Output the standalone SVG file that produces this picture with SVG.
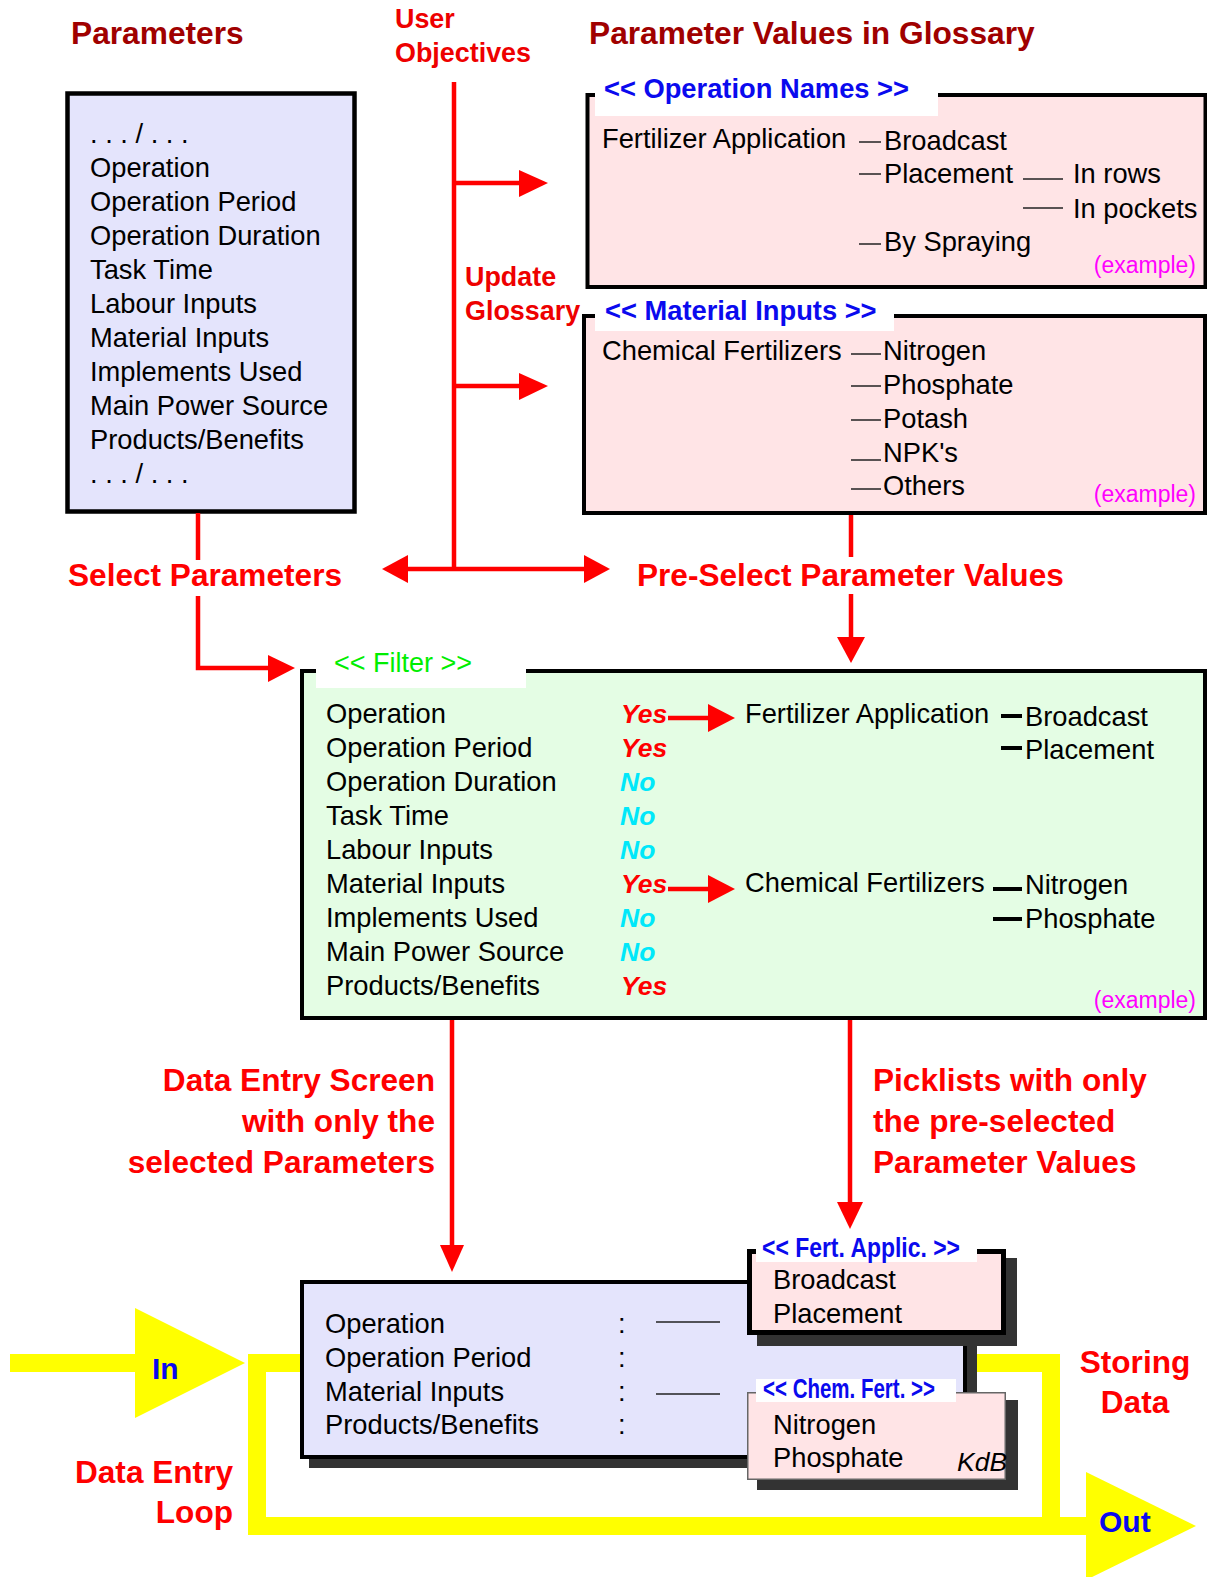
<svg xmlns="http://www.w3.org/2000/svg" width="1207" height="1577" viewBox="0 0 1207 1577">
<defs>
<style>
text{font-family:"Liberation Sans",Arial,Helvetica,sans-serif;}
.reg{font-size:27.3px;fill:#000;}
.hd{font-size:31.7px;font-weight:bold;fill:#A00000;}
.lbl{font-size:31.6px;font-weight:bold;fill:#FF0000;}
.lbl2{font-size:26.9px;font-weight:bold;fill:#EE0000;}
.ttl{font-size:27.3px;font-weight:bold;fill:#0A0AEE;}
.ex{font-size:23px;fill:#FF00FF;text-anchor:end;}
.yes{font-size:26.5px;font-weight:bold;font-style:italic;fill:#FF0000;}
.no{font-size:26.5px;font-weight:bold;font-style:italic;fill:#00E8FA;}
.io{font-size:30px;font-weight:bold;fill:#0A0AEE;}
.thin{stroke:#222;stroke-width:1.5;fill:none;}
.thick{stroke:#000;stroke-width:4;fill:none;}
.con{stroke:#FF0000;stroke-width:4.5;fill:none;}
.head{fill:#FF0000;}
.yl{stroke:#FFFF00;stroke-width:18;fill:none;}
</style>
</defs>
<rect width="1207" height="1577" fill="#FFFFFF"/>

<!-- headings -->
<g id="headings">
<text class="hd" x="71" y="44">Parameters</text>
<text class="hd" x="589" y="44">Parameter Values in Glossary</text>
<text class="lbl2" x="395" y="28">User</text>
<text class="lbl2" x="395" y="62">Objectives</text>
<text class="lbl2" x="465" y="286">Update</text>
<text class="lbl2" x="465" y="320">Glossary</text>
<text class="lbl" x="68" y="586">Select Parameters</text>
<text class="lbl" x="637" y="586">Pre-Select Parameter Values</text>
<text class="lbl" x="435" y="1091" text-anchor="end">Data Entry Screen</text>
<text class="lbl" x="435" y="1132" text-anchor="end">with only the</text>
<text class="lbl" x="435" y="1173" text-anchor="end">selected Parameters</text>
<text class="lbl" x="873" y="1091">Picklists with only</text>
<text class="lbl" x="873" y="1132">the pre-selected</text>
<text class="lbl" x="873" y="1173">Parameter Values</text>
<text class="lbl" x="1135" y="1373" text-anchor="middle">Storing</text>
<text class="lbl" x="1135" y="1413" text-anchor="middle">Data</text>
<text class="lbl" x="233" y="1483" text-anchor="end">Data Entry</text>
<text class="lbl" x="233" y="1523" text-anchor="end">Loop</text>
</g>

<!-- yellow data entry loop -->
<g id="loop">
<rect x="10" y="1354" width="127" height="18" fill="#FFFF00"/>
<polygon points="135,1308 245,1363 135,1418" fill="#FFFF00"/>
<path class="yl" d="M300,1363 H257 V1526 H1051 V1363 H960"/>
<line class="yl" x1="1045" y1="1526" x2="1090" y2="1526"/>
<polygon points="1086,1472 1196,1526 1086,1580" fill="#FFFF00"/>
<text class="io" x="152" y="1379">In</text>
<text class="io" x="1099" y="1532">Out</text>
</g>

<!-- Parameters list -->
<g id="parameters">
<rect x="67.5" y="93.5" width="287" height="418" fill="#E4E4FC" stroke="#000" stroke-width="4.5"/>
<text class="reg" x="90" y="143">. . . / . . .</text>
<text class="reg" x="90" y="177">Operation</text>
<text class="reg" x="90" y="211">Operation Period</text>
<text class="reg" x="90" y="245">Operation Duration</text>
<text class="reg" x="90" y="279">Task Time</text>
<text class="reg" x="90" y="313">Labour Inputs</text>
<text class="reg" x="90" y="347">Material Inputs</text>
<text class="reg" x="90" y="381">Implements Used</text>
<text class="reg" x="90" y="415">Main Power Source</text>
<text class="reg" x="90" y="449">Products/Benefits</text>
<text class="reg" x="90" y="483">. . . / . . .</text>
</g>

<!-- Operation Names glossary -->
<g id="operation-names">
<rect x="587.5" y="95" width="618" height="192" fill="#FFE4E6" stroke="#000" stroke-width="4"/>
<rect x="595" y="76" width="343" height="40" fill="#FFFFFF"/>
<text class="ttl" x="604" y="98">&lt;&lt; Operation Names &gt;&gt;</text>
<text class="reg" x="602" y="148">Fertilizer Application</text>
<line class="thin" x1="859" y1="142" x2="881" y2="142"/>
<text class="reg" x="884" y="150">Broadcast</text>
<line class="thin" x1="859" y1="174" x2="881" y2="174"/>
<text class="reg" x="884" y="183">Placement</text>
<line class="thin" x1="1023" y1="179" x2="1063" y2="179"/>
<text class="reg" x="1073" y="183">In rows</text>
<line class="thin" x1="1023" y1="208" x2="1063" y2="208"/>
<text class="reg" x="1073" y="218">In pockets</text>
<line class="thin" x1="859" y1="244" x2="881" y2="244"/>
<text class="reg" x="884" y="251">By Spraying</text>
<text class="ex" x="1196" y="273">(example)</text>
</g>

<!-- Material Inputs glossary -->
<g id="material-inputs">
<rect x="584" y="316" width="621" height="197" fill="#FFE4E6" stroke="#000" stroke-width="4"/>
<rect x="595" y="298" width="299" height="33" fill="#FFFFFF"/>
<text class="ttl" x="605" y="320">&lt;&lt; Material Inputs &gt;&gt;</text>
<text class="reg" x="602" y="360">Chemical Fertilizers</text>
<line class="thin" x1="851" y1="354" x2="881" y2="354"/>
<text class="reg" x="883" y="360">Nitrogen</text>
<line class="thin" x1="851" y1="386" x2="881" y2="386"/>
<text class="reg" x="883" y="394">Phosphate</text>
<line class="thin" x1="851" y1="420" x2="881" y2="420"/>
<text class="reg" x="883" y="428">Potash</text>
<line class="thin" x1="851" y1="460" x2="881" y2="460"/>
<text class="reg" x="883" y="462">NPK's</text>
<line class="thin" x1="851" y1="489" x2="881" y2="489"/>
<text class="reg" x="883" y="495">Others</text>
<text class="ex" x="1196" y="502">(example)</text>
</g>

<!-- Filter -->
<g id="filter">
<rect x="302" y="671" width="903" height="347" fill="#E4FDE4" stroke="#000" stroke-width="4"/>
<rect x="316" y="650" width="210" height="38" fill="#FFFFFF"/>
<text x="334" y="672" style="font-size:27px;fill:#00EE00;">&lt;&lt; Filter &gt;&gt;</text>
<text class="reg" x="326" y="723">Operation</text>
<text class="reg" x="326" y="757">Operation Period</text>
<text class="reg" x="326" y="791">Operation Duration</text>
<text class="reg" x="326" y="825">Task Time</text>
<text class="reg" x="326" y="859">Labour Inputs</text>
<text class="reg" x="326" y="893">Material Inputs</text>
<text class="reg" x="326" y="927">Implements Used</text>
<text class="reg" x="326" y="961">Main Power Source</text>
<text class="reg" x="326" y="995">Products/Benefits</text>
<text class="yes" x="621" y="723">Yes</text>
<text class="yes" x="621" y="757">Yes</text>
<text class="no" x="620" y="791">No</text>
<text class="no" x="620" y="825">No</text>
<text class="no" x="620" y="859">No</text>
<text class="yes" x="621" y="893">Yes</text>
<text class="no" x="620" y="927">No</text>
<text class="no" x="620" y="961">No</text>
<text class="yes" x="621" y="995">Yes</text>
<text class="reg" x="745" y="723">Fertilizer Application</text>
<line class="thick" x1="1001" y1="716" x2="1022" y2="716"/>
<text class="reg" x="1025" y="726">Broadcast</text>
<line class="thick" x1="1001" y1="748" x2="1022" y2="748"/>
<text class="reg" x="1025" y="759">Placement</text>
<text class="reg" x="745" y="892">Chemical Fertilizers</text>
<line class="thick" x1="993" y1="889" x2="1022" y2="889"/>
<text class="reg" x="1025" y="894">Nitrogen</text>
<line class="thick" x1="993" y1="919" x2="1022" y2="919"/>
<text class="reg" x="1025" y="928">Phosphate</text>
<text class="ex" x="1196" y="1008">(example)</text>
</g>

<!-- Data entry screen -->
<g id="data-entry-screen">
<rect x="309" y="1289" width="668" height="179" fill="#333333"/>
<rect x="302" y="1282" width="663" height="175" fill="#E4E4FC" stroke="#000" stroke-width="4"/>
<text class="reg" x="325" y="1333">Operation</text>
<text class="reg" x="325" y="1367">Operation Period</text>
<text class="reg" x="325" y="1400.5">Material Inputs</text>
<text class="reg" x="325" y="1434">Products/Benefits</text>
<text class="reg" x="618" y="1333">:</text>
<text class="reg" x="618" y="1367">:</text>
<text class="reg" x="618" y="1400.5">:</text>
<text class="reg" x="618" y="1434">:</text>
<line class="thin" x1="656" y1="1322" x2="720" y2="1322"/>
<line class="thin" x1="656" y1="1394" x2="720" y2="1394" stroke="#555"/>
</g>

<!-- Fert. Applic. picklist -->
<g id="fert-applic">
<rect x="757" y="1258" width="260" height="88" fill="#333333"/>
<rect x="749.5" y="1251.5" width="254" height="81" fill="#FFE4E6" stroke="#000" stroke-width="5"/>
<rect x="756" y="1228" width="221" height="34" fill="#FFFFFF"/>
<text class="ttl" x="762" y="1257" textLength="198" lengthAdjust="spacingAndGlyphs">&lt;&lt; Fert. Applic. &gt;&gt;</text>
<text class="reg" x="773" y="1289">Broadcast</text>
<text class="reg" x="773" y="1323">Placement</text>
</g>

<!-- Chem. Fert. picklist -->
<g id="chem-fert">
<rect x="757" y="1400" width="261" height="90" fill="#333333"/>
<rect x="747.75" y="1392.75" width="257.5" height="86.5" fill="#FFE4E6" stroke="#666" stroke-width="1.5"/>
<rect x="756" y="1379" width="200" height="23" fill="#FFFFFF"/>
<text class="ttl" x="763" y="1398" textLength="172" lengthAdjust="spacingAndGlyphs">&lt;&lt; Chem. Fert. &gt;&gt;</text>
<text class="reg" x="773" y="1434">Nitrogen</text>
<text class="reg" x="773" y="1467">Phosphate</text>
<text x="957" y="1471" style="font-size:26.5px;font-style:italic;fill:#000;">KdB</text>
</g>

<!-- connectors -->
<g id="connectors">
<line class="con" x1="454" y1="82" x2="454" y2="569"/>
<line class="con" x1="454" y1="183" x2="521" y2="183"/>
<polygon class="head" points="519,170 548,183 519,197"/>
<line class="con" x1="454" y1="386" x2="521" y2="386"/>
<polygon class="head" points="519,373 548,386 519,400"/>
<line class="con" x1="406" y1="569" x2="586" y2="569"/>
<polygon class="head" points="408,555 382,569 408,583"/>
<polygon class="head" points="584,555 610,569 584,583"/>
<line class="con" x1="198" y1="513" x2="198" y2="560"/>
<polyline class="con" points="198,596 198,668 270,668"/>
<polygon class="head" points="268,655 295,668 268,682"/>
<line class="con" x1="851" y1="515" x2="851" y2="557"/>
<line class="con" x1="851" y1="594" x2="851" y2="640"/>
<polygon class="head" points="837,637 851,663 865,637"/>
<line class="con" x1="668" y1="718" x2="710" y2="718"/>
<polygon class="head" points="708,704 735,718 708,732"/>
<line class="con" x1="668" y1="889" x2="710" y2="889"/>
<polygon class="head" points="708,875 735,889 708,903"/>
<line class="con" x1="452" y1="1020" x2="452" y2="1247"/>
<polygon class="head" points="440,1245 452,1272 464,1245"/>
<line class="con" x1="850" y1="1020" x2="850" y2="1204"/>
<polygon class="head" points="837,1202 850,1229 863,1202"/>
</g>
</svg>
